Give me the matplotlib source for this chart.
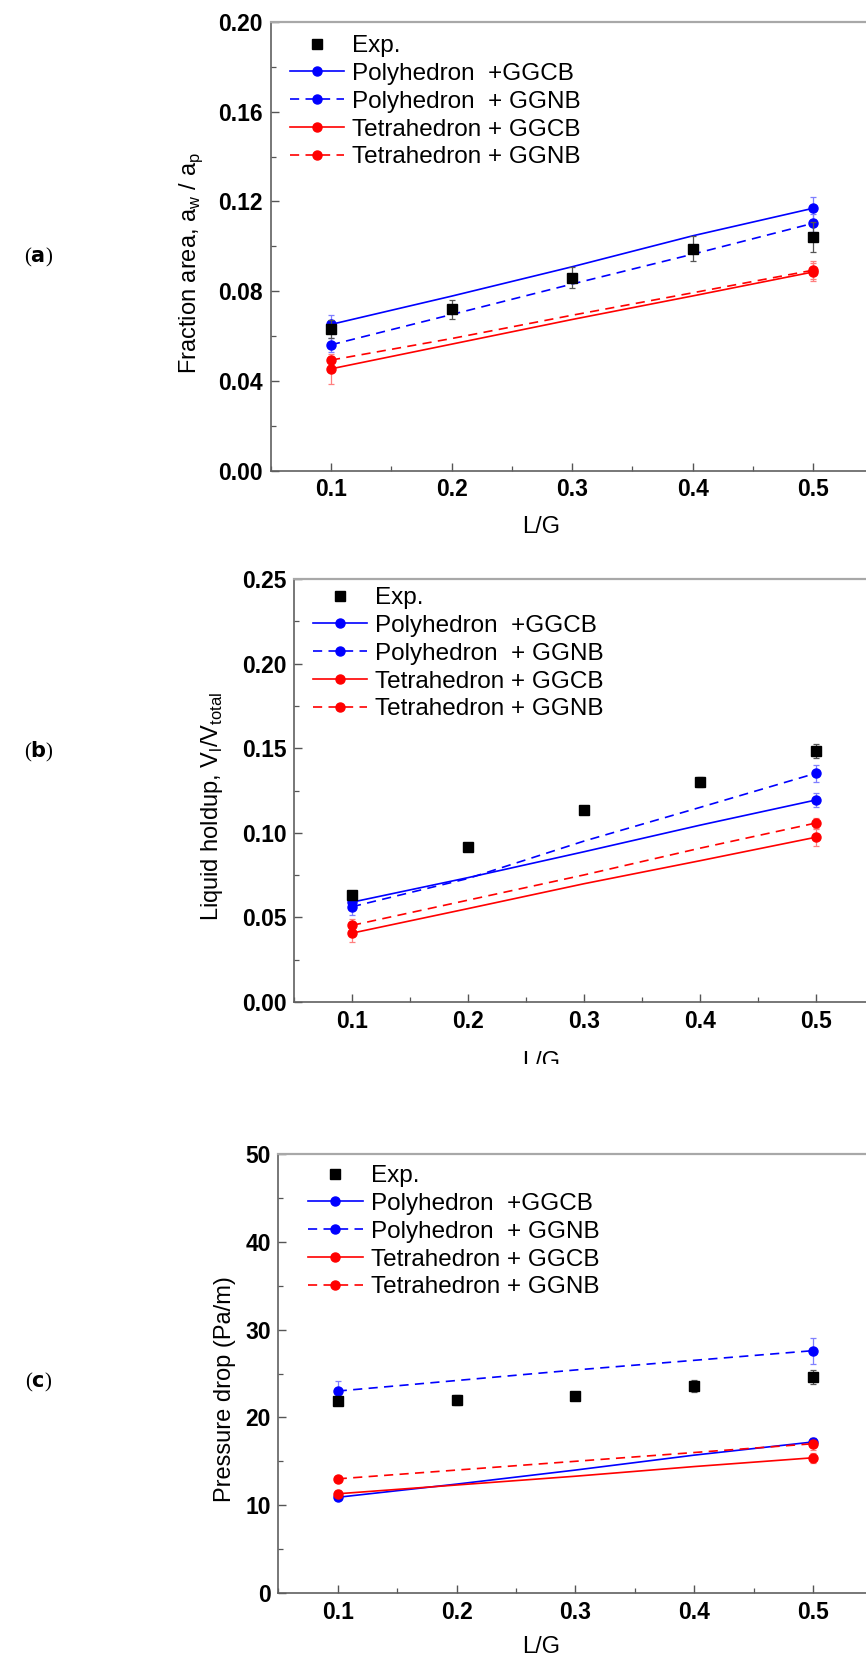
import matplotlib
matplotlib.use("Agg")
import matplotlib.pyplot as plt
from matplotlib.ticker import MultipleLocator, FormatStrFormatter
from matplotlib.transforms import Bbox, TransformedBbox

# ---------------- data ----------------
lg = [0.1, 0.2, 0.3, 0.4, 0.5]

# (a) fraction area
a_exp = [0.0630, 0.0720, 0.0861, 0.0990, 0.1041]
a_exp_err = [0.0040, 0.0043, 0.0045, 0.0056, 0.0068]
a_poly_ggcb = [0.0652, 0.0778, 0.0909, 0.1047, 0.1170]
a_poly_ggnb = [0.0561, 0.0696, 0.0832, 0.0965, 0.1103]
a_tet_ggcb = [0.0454, 0.0564, 0.0674, 0.0779, 0.0886]
a_tet_ggnb = [0.0493, 0.0589, 0.0693, 0.0793, 0.0894]
a_poly_ggcb_err = [0.0040, 0.0050]
a_poly_ggnb_err = [0.0030, 0.0040]
a_tet_ggcb_err = [0.0067, 0.0040]
a_tet_ggnb_err = [0.0020, 0.0040]

# (b) liquid holdup
b_exp = [0.0634, 0.0917, 0.1133, 0.1301, 0.1482]
b_exp_err = [0.0020, 0.0015, 0.0020, 0.0030, 0.0040]
b_poly_ggcb = [0.0590, 0.0735, 0.0888, 0.1045, 0.1194]
b_poly_ggnb = [0.0563, 0.0730, 0.0951, 0.1150, 0.1352]
b_tet_ggcb = [0.0407, 0.0552, 0.0699, 0.0835, 0.0974]
b_tet_ggnb = [0.0453, 0.0602, 0.0751, 0.0909, 0.1058]
b_poly_ggcb_err = [0.0030, 0.0040]
b_poly_ggnb_err = [0.0050, 0.0050]
b_tet_ggcb_err = [0.0050, 0.0050]
b_tet_ggnb_err = [0.0040, 0.0030]

# (c) pressure drop
c_exp = [21.9, 22.0, 22.4, 23.6, 24.6]
c_exp_err = [0.4, 0.6, 0.4, 0.7, 0.8]
c_poly_ggcb = [10.9, 12.4, 14.0, 15.7, 17.2]
c_poly_ggnb = [23.0, 24.2, 25.4, 26.5, 27.6]
c_tet_ggcb = [11.3, 12.3, 13.3, 14.4, 15.4]
c_tet_ggnb = [13.0, 14.0, 15.0, 16.0, 17.0]
c_poly_ggcb_err = [0.3, 0.5]
c_poly_ggnb_err = [1.1, 1.5]
c_tet_ggcb_err = [0.4, 0.6]
c_tet_ggnb_err = [0.3, 0.7]

labels = ["Exp.", "Polyhedron  +GGCB", "Polyhedron  + GGNB",
          "Tetrahedron + GGCB", "Tetrahedron + GGNB"]
ylabels = [r"Fraction area, a$_\mathregular{w}$ / a$_\mathregular{p}$",
           r"Liquid holdup, V$_\mathregular{l}$/V$_\mathregular{total}$",
           "Pressure drop (Pa/m)"]
panel_tags = ["a", "b", "c"]

# ---------------- style ----------------
plt.rcParams['font.family'] = ['Liberation Sans', 'DejaVu Sans']
plt.rcParams['mathtext.fontset'] = 'custom'
plt.rcParams['mathtext.rm'] = 'Liberation Sans'

W, H = 866, 1661
fig = plt.figure(figsize=(W / 100, H / 100), dpi=100)

# pixel layout: (left, top, bottom, right)
rects = [(270.7, 22, 470.7, 873.6),
         (294.0, 579, 1002, 874.0),
         (278.3, 1154, 1593, 872.3)]
ylims = [(0, 0.20), (0, 0.25), (0, 50)]
ymajor = [0.04, 0.05, 10]
yfmt = ["%.2f", "%.2f", "%d"]
ylab_center = [(191, 263), (212, 807), (225, 1389)]
xlab_top = [516, 1051, 1636]
legend_anchor = [(289.6, 35), (312.7, 587), (308.0, 1165)]
tag_pos = [(39, 257), (39, 752), (39, 1382)]

datasets = [
    (a_exp, a_exp_err, [a_poly_ggcb, a_poly_ggnb, a_tet_ggcb, a_tet_ggnb],
     [a_poly_ggcb_err, a_poly_ggnb_err, a_tet_ggcb_err, a_tet_ggnb_err]),
    (b_exp, b_exp_err, [b_poly_ggcb, b_poly_ggnb, b_tet_ggcb, b_tet_ggnb],
     [b_poly_ggcb_err, b_poly_ggnb_err, b_tet_ggcb_err, b_tet_ggnb_err]),
    (c_exp, c_exp_err, [c_poly_ggcb, c_poly_ggnb, c_tet_ggcb, c_tet_ggnb],
     [c_poly_ggcb_err, c_poly_ggnb_err, c_tet_ggcb_err, c_tet_ggnb_err]),
]
model_colors = ["#0000ff", "#0000ff", "#ff0000", "#ff0000"]
model_styles = ["-", (0, (5.5, 3.8)), "-", (0, (5.5, 3.8))]
err_colors = ["#7f7fff", "#7f7fff", "#ff7f7f", "#ff7f7f"]

for i, (L, T, B, R) in enumerate(rects):
    ax = fig.add_axes([L / W, 1 - B / H, (R - L) / W, (B - T) / H])
    exp, exp_err, models, merrs = datasets[i]
    handles = []
    h0 = ax.errorbar(lg, exp, yerr=exp_err, fmt='s', color='black', ms=6.5,
                     ecolor='#555555', elinewidth=0.9, capsize=2.5, capthick=0.9,
                     zorder=5)
    handles.append(h0.lines[0])
    ends = [lg[0], lg[-1]]
    for m, me, col, ls, ec in zip(models, merrs, model_colors, model_styles, err_colors):
        ax.errorbar(ends, [m[0], m[-1]], yerr=me, fmt='none', ecolor=ec,
                    elinewidth=0.9, capsize=2.5, capthick=0.9, zorder=3)
        ln, = ax.plot(lg, m, color=col, lw=1.2, ls=ls, marker='o', ms=6.5,
                      markevery=[0, len(lg) - 1], zorder=4)
        handles.append(ln)

    ax.set_xlim(0.05, 0.55)
    ax.set_ylim(*ylims[i])
    ax.xaxis.set_major_locator(MultipleLocator(0.1))
    ax.xaxis.set_minor_locator(MultipleLocator(0.05))
    ax.xaxis.set_major_formatter(FormatStrFormatter("%.1f"))
    ax.yaxis.set_major_locator(MultipleLocator(ymajor[i]))
    ax.yaxis.set_minor_locator(MultipleLocator(ymajor[i] / 2))
    ax.yaxis.set_major_formatter(FormatStrFormatter(yfmt[i]))
    ax.tick_params(which='both', direction='in', colors='#555555',
                   labelcolor='black', top=False, right=False)
    ax.tick_params(which='major', length=6, width=1.0, pad=5.5)
    ax.tick_params(which='minor', length=3.5, width=0.9)
    for lab in ax.get_xticklabels() + ax.get_yticklabels():
        lab.set_fontweight('bold')
        lab.set_fontsize(16.5)
    for s in ['left', 'bottom']:
        ax.spines[s].set_color('#606060')
        ax.spines[s].set_linewidth(1.2)
    ax.spines['top'].set_color('#a8a8a8')
    ax.spines['top'].set_linewidth(1.6)
    ax.spines['right'].set_visible(False)

    # axis labels
    ax.set_ylabel(ylabels[i], fontsize=17)
    cx, cy = ylab_center[i]
    ax.yaxis.set_label_coords((cx - L) / (R - L), (B - cy) / (B - T))
    ax.yaxis.label.set_va('center')
    ax.yaxis.label.set_ha('center')
    ax.set_xlabel("L/G", fontsize=17)
    ax.xaxis.set_label_coords((541 - L) / (R - L), (B - xlab_top[i]) / (B - T))
    ax.xaxis.label.set_va('top')
    if i == 1:
        clip = TransformedBbox(Bbox([[0, 1 - 1064 / H], [1, 1]]), fig.transFigure)
        ax.xaxis.label.set_clip_box(clip)
        ax.xaxis.label.set_clip_on(True)

    lx, ly = legend_anchor[i]
    ax.legend(handles, labels, loc='upper left',
              bbox_to_anchor=((lx - L) / (R - L), (B - ly) / (B - T)),
              frameon=False, fontsize=17.5, borderpad=0, borderaxespad=0,
              handlelength=2.25, handletextpad=0.33, labelspacing=0.24,
              markerscale=1.0)

    tx, ty = tag_pos[i]
    fig.text(tx / W, 1 - ty / H, r"(" + r"$\mathbf{" + panel_tags[i] + r"}$" + ")",
             fontsize=15, family='Liberation Serif', ha='center', va='center')

fig.savefig("out.png", dpi=100)
